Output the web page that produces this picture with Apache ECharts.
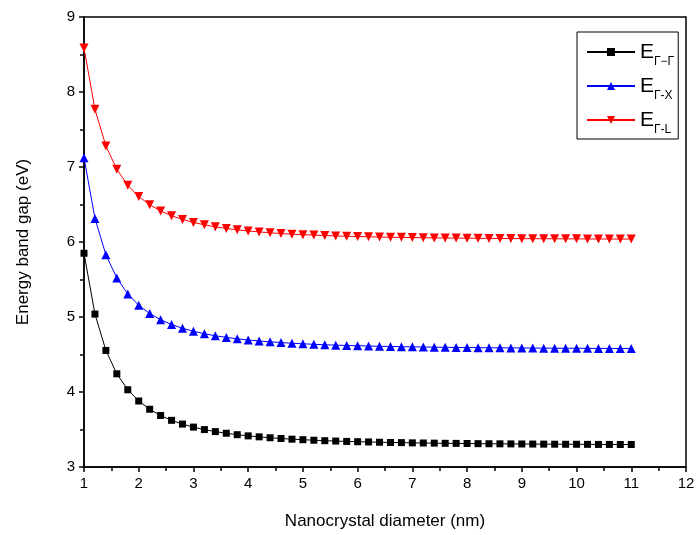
<!DOCTYPE html>
<html><head><meta charset="utf-8">
<script src="https://cdn.jsdelivr.net/npm/echarts@6/dist/echarts.min.js"></script>
<style>html,body{margin:0;padding:0;background:#fff}#c{width:698px;height:535px}</style>
</head><body><div id="c"></div>
<script>
const diameters = [1.0,1.2,1.4,1.6,1.8,2.0,2.2,2.4,2.6,2.8,3.0,3.2,3.4,3.6,3.8,4.0,4.2,4.4,4.6,4.8,5.0,5.2,5.4,5.6,5.8,6.0,6.2,6.4,6.6,6.8,7.0,7.2,7.4,7.6,7.8,8.0,8.2,8.4,8.6,8.8,9.0,9.2,9.4,9.6,9.8,10.0,10.2,10.4,10.6,10.8,11.0];
const gapGG = [5.850,5.039,4.554,4.243,4.030,3.880,3.770,3.687,3.622,3.572,3.532,3.499,3.472,3.450,3.431,3.415,3.402,3.390,3.380,3.371,3.364,3.357,3.351,3.346,3.341,3.337,3.334,3.330,3.327,3.325,3.322,3.320,3.318,3.316,3.315,3.313,3.311,3.310,3.309,3.308,3.307,3.306,3.305,3.304,3.303,3.303,3.302,3.301,3.301,3.300,3.300];
const gapGX = [7.125,6.315,5.830,5.519,5.307,5.157,5.047,4.964,4.900,4.850,4.810,4.777,4.750,4.728,4.709,4.693,4.680,4.669,4.659,4.650,4.643,4.636,4.630,4.625,4.620,4.617,4.613,4.610,4.607,4.604,4.602,4.600,4.598,4.596,4.594,4.593,4.591,4.590,4.589,4.588,4.587,4.586,4.585,4.584,4.583,4.583,4.582,4.581,4.581,4.580,4.580];
const gapGL = [8.588,7.769,7.281,6.969,6.756,6.606,6.497,6.414,6.350,6.301,6.261,6.229,6.202,6.181,6.162,6.147,6.135,6.123,6.113,6.105,6.098,6.092,6.086,6.081,6.076,6.073,6.070,6.066,6.063,6.062,6.059,6.057,6.055,6.053,6.052,6.051,6.049,6.048,6.047,6.046,6.045,6.044,6.044,6.043,6.042,6.042,6.041,6.040,6.040,6.039,6.039];
const seriesNames = ['Γ−Γ','Γ-X','Γ-L'];
const xTicks = [1,2,3,4,5,6,7,8,9,10,11,12];
const yTicks = [3,4,5,6,7,8,9];

const font = 'Liberation Sans, Arial, sans-serif';
const pair = arr => diameters.map((d,i)=>[d,arr[i]]);
const chart = echarts.init(document.getElementById('c'));
const mk = (name, data, color, symbol, size, rot) => ({
  name, type:'line', data: pair(data), symbol, symbolSize:size, symbolRotate:rot||0,
  showSymbol:true, lineStyle:{color, width:1}, itemStyle:{color}, animation:false, z:3
});
chart.setOption({
  animation:false,
  grid:{left:84, right:12, top:17, bottom:67, show:true, borderColor:'#000', borderWidth:1.5, backgroundColor:'transparent'},
  legend:{
    orient:'vertical', left:577, top:32, itemWidth:48, itemHeight:10, itemGap:8,
    padding:[10,4,3,9], borderColor:'#000', borderWidth:1, selectedMode:false,
    data: seriesNames,
    formatter: n => '{e|E}{s|'+n+'}',
    textStyle:{color:'#000', fontFamily:font, rich:{
      e:{fontSize:21, fontFamily:font, color:'#000', verticalAlign:'bottom', lineHeight:22},
      s:{fontSize:12, fontFamily:font, color:'#000', verticalAlign:'bottom', lineHeight:12, padding:[0,0,-5,0]}
    }}
  },
  xAxis:{
    type:'value', min:xTicks[0], max:xTicks[xTicks.length-1], interval:1,
    name:'Nanocrystal diameter (nm)', nameLocation:'middle', nameGap:46,
    nameTextStyle:{fontSize:17, fontFamily:font, color:'#000'},
    axisLine:{lineStyle:{color:'#000', width:1.5}},
    axisTick:{show:true, inside:false, length:5, lineStyle:{color:'#000', width:1.5}},
    minorTick:{show:true, splitNumber:2, length:4, lineStyle:{color:'#000', width:1.5}},
    axisLabel:{fontSize:15, fontFamily:font, color:'#000', margin:9},
    splitLine:{show:false}
  },
  yAxis:{
    type:'value', min:yTicks[0], max:yTicks[yTicks.length-1], interval:1,
    name:'Energy band gap (eV)', nameLocation:'middle', nameGap:52,
    nameTextStyle:{fontSize:17, fontFamily:font, color:'#000'},
    axisLine:{show:true, lineStyle:{color:'#000', width:1.5}},
    axisTick:{show:true, inside:false, length:5, lineStyle:{color:'#000', width:1.5}},
    minorTick:{show:true, splitNumber:2, length:4, lineStyle:{color:'#000', width:1.5}},
    axisLabel:{fontSize:15, fontFamily:font, color:'#000', margin:9},
    splitLine:{show:false}
  },
  series:[
    mk(seriesNames[0], gapGG, '#000000', 'rect', 7),
    mk(seriesNames[1], gapGX, '#0000ff', 'triangle', 9),
    mk(seriesNames[2], gapGL, '#ff0000', 'triangle', 9, 180)
  ]
});
</script></body></html>
